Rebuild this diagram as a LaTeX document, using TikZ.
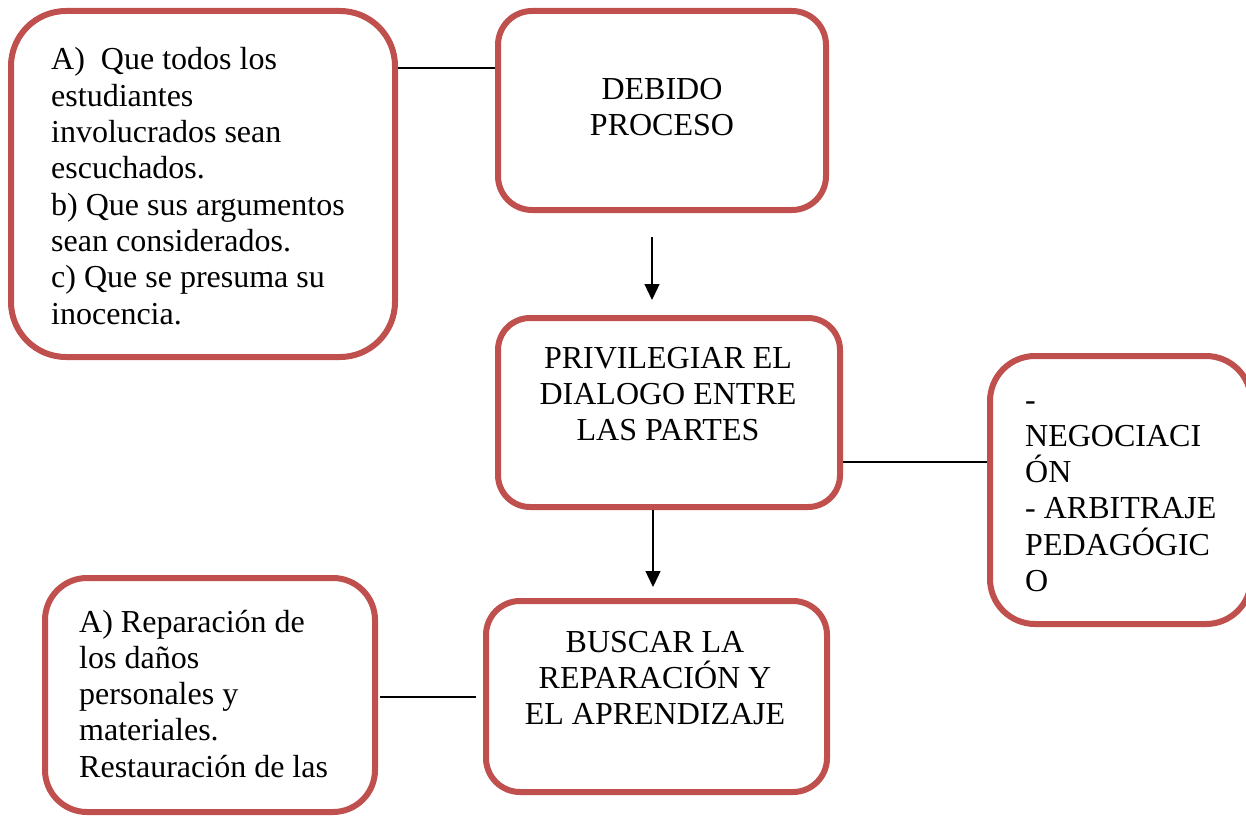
\documentclass[tikz,border=0pt]{standalone}
\usepackage{fontspec}
\setmainfont{Liberation Serif}
\usetikzlibrary{arrows.meta}
\definecolor{boxred}{HTML}{C0504D}
\newcommand\lblock[1]{\vtop{\halign{##\hfil\cr#1\crcr}}}
\newcommand\cblock[1]{\vtop{\halign{\hfil##\hfil\cr#1\crcr}}}
\begin{document}
\begin{tikzpicture}[x=1pt,y=-1pt,
  box/.style={draw=boxred,line width=6pt,fill=white,rectangle,inner sep=0pt},
  txt/.style={inner sep=0pt,font=\fontsize{32}{36.3}\selectfont},
  conn/.style={draw=black,line width=1.3pt},
  arr/.style={conn,-{Triangle[width=15pt,length=16pt]}}]
\useasboundingbox (0,0) rectangle (1246,816);
\clip (0,0) rectangle (1246,816);
\fill[white] (0,0) rectangle (1246,816);
% boxes
\node[box,rounded corners=55pt,minimum width=384pt,minimum height=346pt] (lbox) at (203,184) {};
\node[box,rounded corners=34pt,minimum width=328pt,minimum height=199pt] (debido) at (662,110.5) {};
\node[box,rounded corners=32pt,minimum width=342pt,minimum height=189pt] (priv) at (669,412.5) {};
\node[box,rounded corners=45pt,minimum width=261pt,minimum height=268pt] (rbox) at (1120.5,490) {};
\node[box,rounded corners=34pt,minimum width=341pt,minimum height=191pt] (buscar) at (656.5,696.5) {};
\node[box,rounded corners=42pt,minimum width=330pt,minimum height=234pt] (lbbox) at (210,695) {};
% texts
\node[txt,anchor=base west] (t1) at (51,70) {\lblock{A)\ \ Que todos los\cr estudiantes\cr involucrados sean\cr escuchados.\cr b) Que sus argumentos\cr sean considerados.\cr c) Que se presuma su\cr inocencia.}};
\node[txt,anchor=base] (t2) at (662,99) {\cblock{DEBIDO\cr PROCESO}};
\node[txt,anchor=base] (t3) at (668,368) {\cblock{PRIVILEGIAR EL\cr DIALOGO ENTRE\cr LAS PARTES}};
\node[txt,anchor=base west] (t4) at (1025,410) {\lblock{-\cr NEGOCIACI\cr ÓN\cr - ARBITRAJE\cr PEDAGÓGIC\cr O}};
\node[txt,anchor=base] (t5) at (655,652) {\cblock{BUSCAR LA\cr REPARACIÓN Y\cr EL APRENDIZAJE}};
\node[txt,anchor=base west] (t6) at (79,632) {\lblock{A) Reparación de\cr los daños\cr personales y\cr materiales.\cr Restauración de las}};
% connectors
\draw[conn] (lbox.east |- 0,68) -- (debido.west |- 0,68);
\draw[conn] (priv.east |- 0,462) -- (rbox.west |- 0,462);
\coordinate (b1) at (380,697);
\coordinate (b2) at (476,697);
\draw[conn] (b1) -- (b2);
\coordinate (a1s) at (652,237);
\coordinate (a1e) at (652,300);
\draw[arr] (a1s) -- (a1e);
\coordinate (a2s) at (653,510);
\coordinate (a2e) at (653,587);
\draw[arr] (a2s) -- (a2e);
\end{tikzpicture}
\end{document}
